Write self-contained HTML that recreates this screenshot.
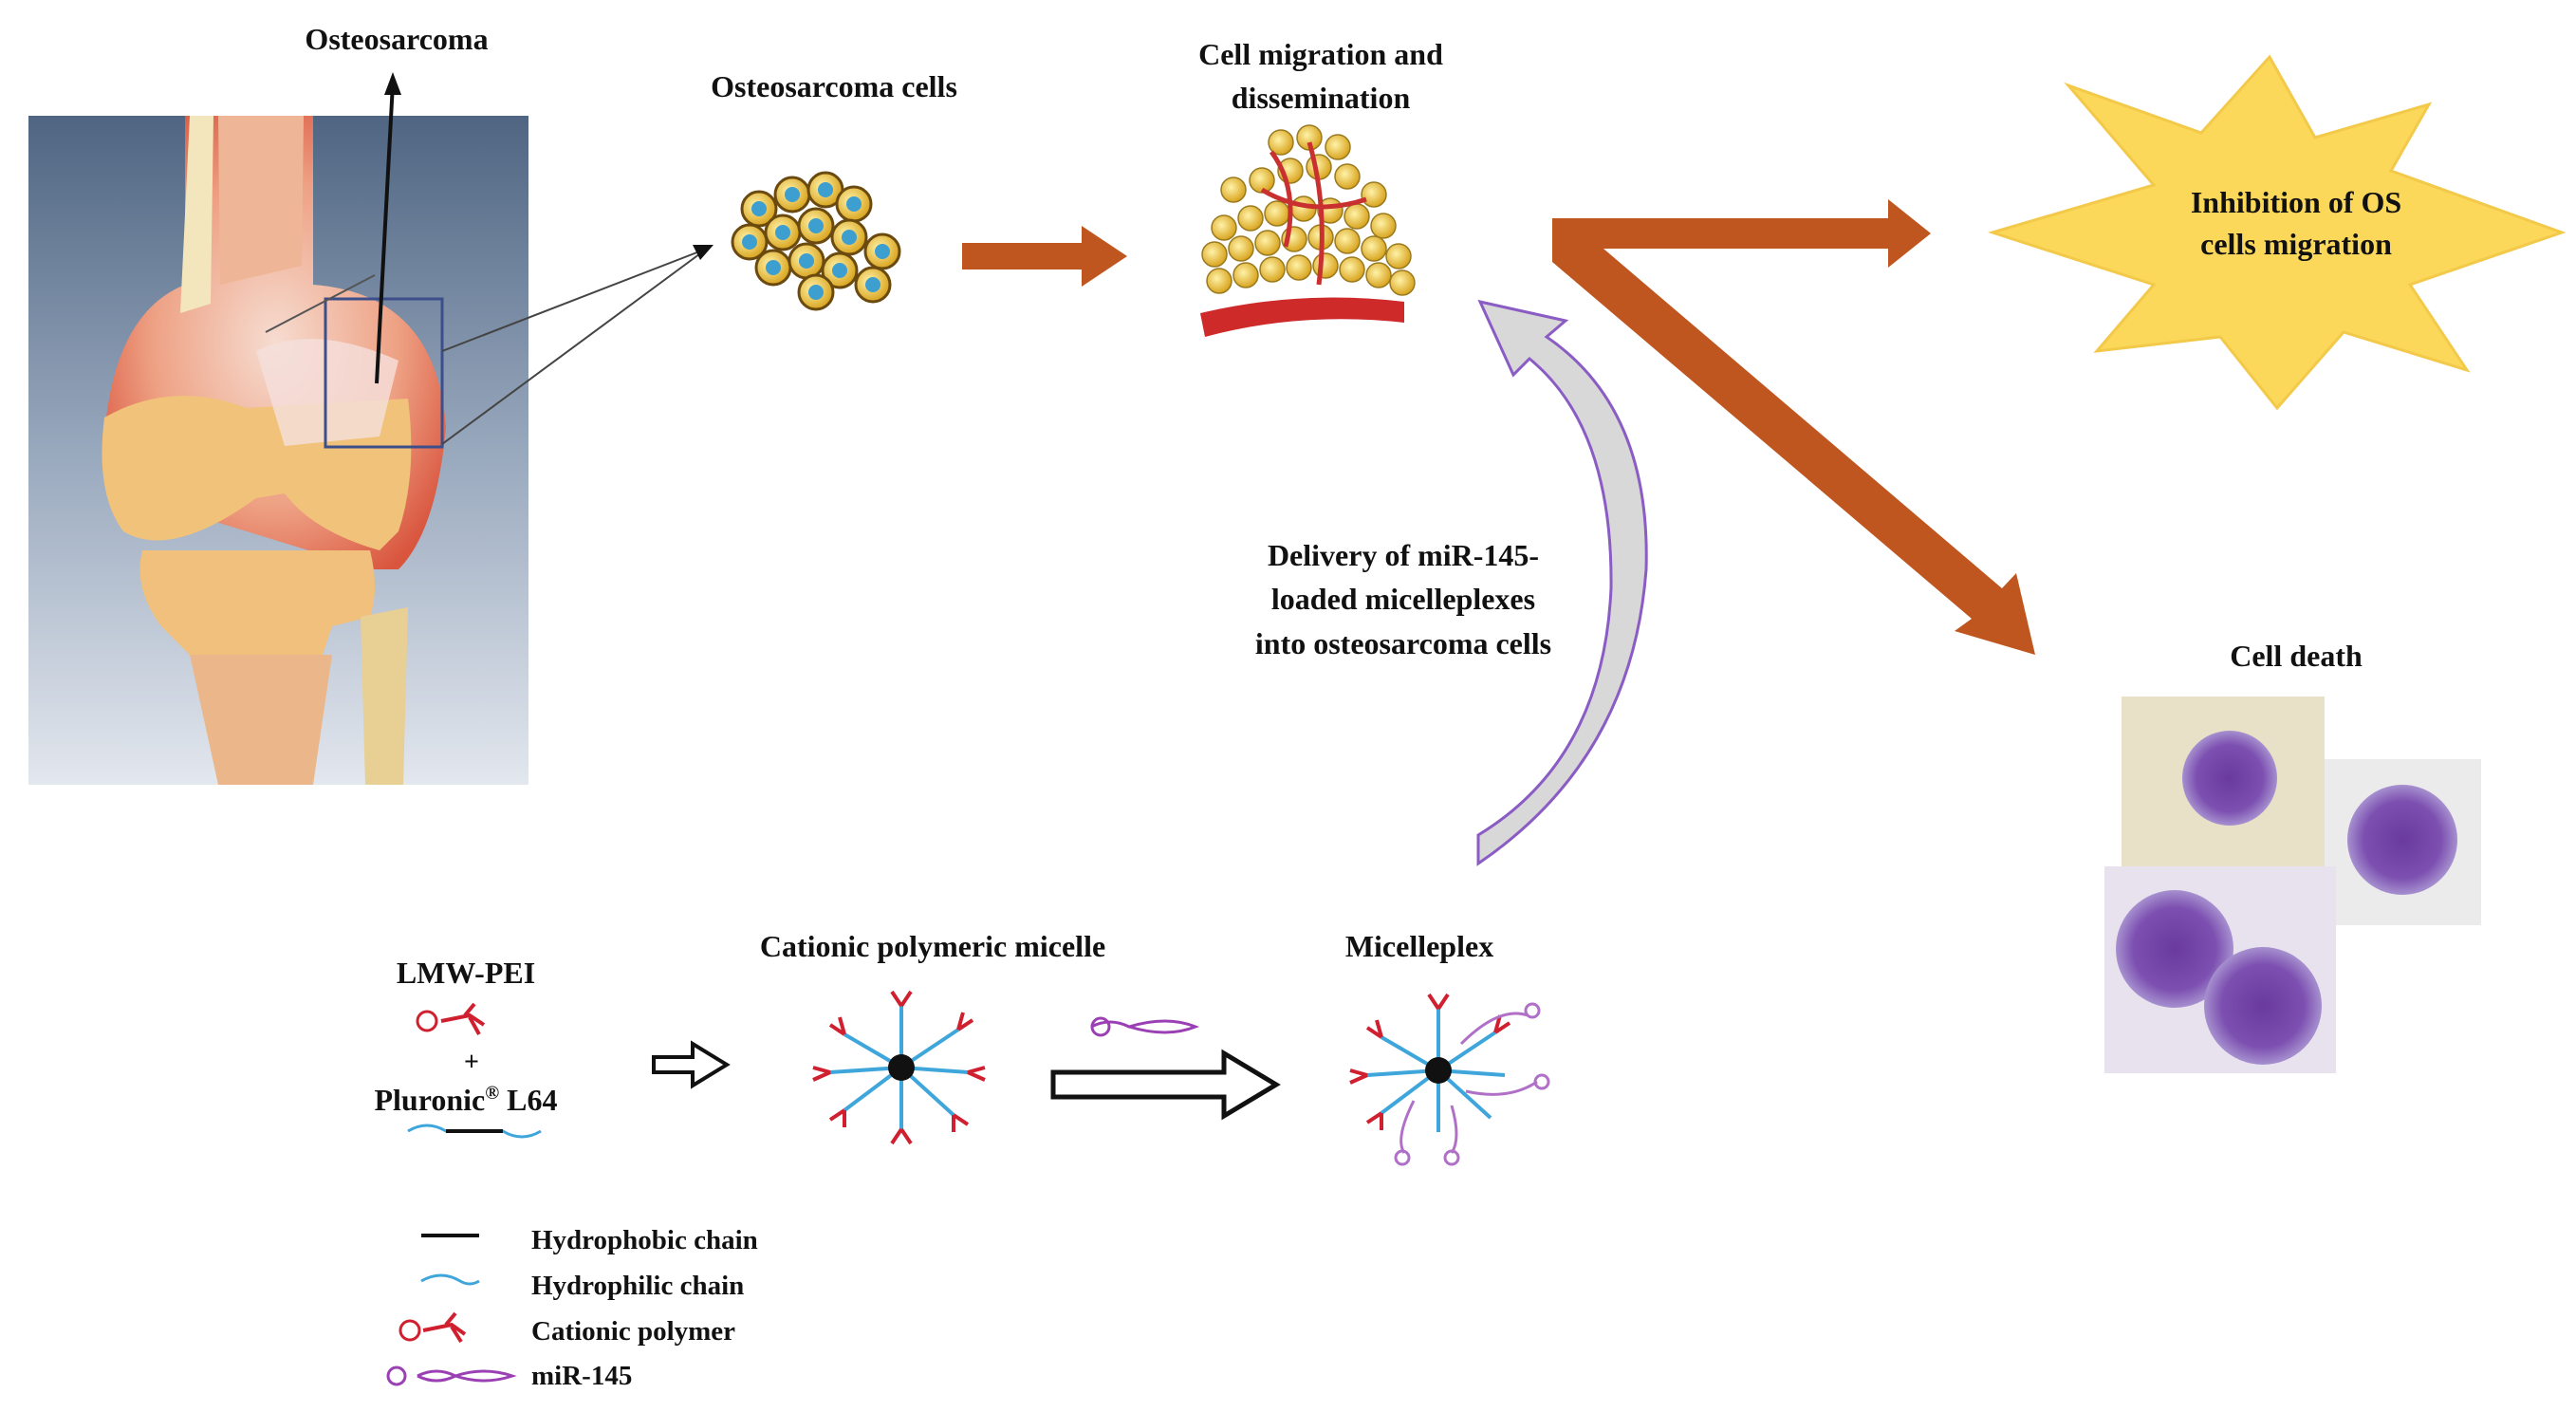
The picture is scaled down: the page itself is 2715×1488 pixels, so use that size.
<!DOCTYPE html>
<html><head><meta charset="utf-8"><style>
html,body{margin:0;padding:0;background:#fff;}
svg{display:block;}
text{font-family:"Liberation Serif",serif;font-weight:bold;fill:#111;}
</style></head><body>
<svg width="2715" height="1488" viewBox="0 0 2715 1488" xmlns="http://www.w3.org/2000/svg">
<defs>
<linearGradient id="bg" x1="0" y1="0" x2="0" y2="1"><stop offset="0" stop-color="#4f6582"/><stop offset="0.5" stop-color="#98a8bd"/><stop offset="1" stop-color="#e3e7ee"/></linearGradient>
<radialGradient id="tum" cx="0.5" cy="0.5" r="0.6"><stop offset="0" stop-color="#f6dcd0"/><stop offset="0.6" stop-color="#eea184"/><stop offset="1" stop-color="#d9553e"/></radialGradient>
<radialGradient id="cell" cx="0.4" cy="0.4" r="0.6"><stop offset="0" stop-color="#fff2a8"/><stop offset="1" stop-color="#d9a520"/></radialGradient>
<radialGradient id="pc" cx="0.5" cy="0.5" r="0.5"><stop offset="0" stop-color="#6a3a9e"/><stop offset="0.7" stop-color="#7c4fb0"/><stop offset="1" stop-color="#a690cf"/></radialGradient>
</defs>

<!-- knee -->
<rect x="30" y="122" width="527" height="705" fill="url(#bg)"/>
<path d="M195 122 L330 122 L330 300 Q460 310 470 450 Q460 560 420 600 L390 600 L130 520 L110 460 Q120 330 195 300 Z" fill="url(#tum)"/>
<path d="M200 122 L225 122 L222 320 L190 330 Z" fill="#f3e6bc"/>
<path d="M230 122 L320 122 L318 280 L232 300 Z" fill="#eeb697"/>
<path d="M110 440 Q180 400 260 430 L430 420 Q440 500 420 560 L400 580 Q330 560 300 520 L270 525 Q180 590 130 560 Q100 520 110 440 Z" fill="#f1c27a"/>
<path d="M150 580 L390 580 Q400 620 390 650 L350 660 L330 720 L330 827 L230 827 L230 720 L170 660 Q140 620 150 580 Z" fill="#f0c07c"/>
<path d="M200 690 L350 690 L330 827 L230 827 Z" fill="#ebb68a"/>
<path d="M380 650 L430 640 L425 827 L385 827 Z" fill="#e8cf93"/>
<path d="M270 370 Q330 340 420 380 L400 460 L300 470 Z" fill="#f5e0dc" opacity="0.8"/>
<rect x="343" y="315" width="123" height="156" fill="none" stroke="#3c4f8a" stroke-width="3"/>
<line x1="397" y1="404" x2="414" y2="88" stroke="#111" stroke-width="4"/>
<polygon points="414,76 405,100 423,100" fill="#111"/>
<line x1="280" y1="350" x2="395" y2="290" stroke="#555" stroke-width="2"/>
<line x1="466" y1="370" x2="745" y2="262" stroke="#444" stroke-width="2"/>
<line x1="466" y1="468" x2="745" y2="262" stroke="#444" stroke-width="2"/>
<polygon points="752,258 730,258 738,274" fill="#111"/>
<text x="418" y="52" font-size="32" text-anchor="middle">Osteosarcoma</text>

<!-- osteosarcoma cells -->
<text x="879" y="102" font-size="32" text-anchor="middle">Osteosarcoma cells</text>
<g stroke="#6b4a10" stroke-width="3" fill="url(#cell)">
<circle cx="800" cy="220" r="18"/><circle cx="835" cy="205" r="18"/><circle cx="870" cy="200" r="18"/><circle cx="900" cy="215" r="18"/>
<circle cx="790" cy="255" r="18"/><circle cx="825" cy="245" r="18"/><circle cx="860" cy="238" r="18"/><circle cx="895" cy="250" r="18"/><circle cx="930" cy="265" r="18"/>
<circle cx="815" cy="282" r="18"/><circle cx="850" cy="275" r="18"/><circle cx="885" cy="285" r="18"/><circle cx="920" cy="300" r="18"/><circle cx="860" cy="308" r="18"/>
</g>
<g fill="#3d9fd0">
<circle cx="800" cy="220" r="8"/><circle cx="835" cy="205" r="8"/><circle cx="870" cy="200" r="8"/><circle cx="900" cy="215" r="8"/>
<circle cx="790" cy="255" r="8"/><circle cx="825" cy="245" r="8"/><circle cx="860" cy="238" r="8"/><circle cx="895" cy="250" r="8"/><circle cx="930" cy="265" r="8"/>
<circle cx="815" cy="282" r="8"/><circle cx="850" cy="275" r="8"/><circle cx="885" cy="285" r="8"/><circle cx="920" cy="300" r="8"/><circle cx="860" cy="308" r="8"/>
</g>

<!-- orange arrow -->
<polygon points="1014,256 1140,256 1140,238 1188,270 1140,302 1140,284 1014,284" fill="#c0561f"/>

<!-- migration cluster -->
<text x="1392" y="68" font-size="32" text-anchor="middle">Cell migration and</text>
<text x="1392" y="114" font-size="32" text-anchor="middle">dissemination</text>
<g>
<path d="M1265 330 Q1370 305 1480 318 L1480 340 Q1370 328 1270 355 Z" fill="#cf2a2a"/>
<g fill="url(#cell)" stroke="#9a7a20" stroke-width="1.5">
<circle cx="1290" cy="240" r="13"/><circle cx="1318" cy="230" r="13"/><circle cx="1346" cy="225" r="13"/><circle cx="1374" cy="220" r="13"/><circle cx="1402" cy="222" r="13"/><circle cx="1430" cy="228" r="13"/><circle cx="1458" cy="238" r="13"/>
<circle cx="1280" cy="268" r="13"/><circle cx="1308" cy="262" r="13"/><circle cx="1336" cy="256" r="13"/><circle cx="1364" cy="252" r="13"/><circle cx="1392" cy="250" r="13"/><circle cx="1420" cy="254" r="13"/><circle cx="1448" cy="262" r="13"/><circle cx="1474" cy="270" r="13"/>
<circle cx="1285" cy="296" r="13"/><circle cx="1313" cy="290" r="13"/><circle cx="1341" cy="284" r="13"/><circle cx="1369" cy="282" r="13"/><circle cx="1397" cy="280" r="13"/><circle cx="1425" cy="284" r="13"/><circle cx="1453" cy="290" r="13"/><circle cx="1478" cy="298" r="13"/>
<circle cx="1300" cy="200" r="13"/><circle cx="1330" cy="190" r="13"/><circle cx="1360" cy="180" r="13"/><circle cx="1390" cy="176" r="13"/><circle cx="1420" cy="186" r="13"/><circle cx="1448" cy="205" r="13"/>
<circle cx="1350" cy="150" r="13"/><circle cx="1380" cy="145" r="13"/><circle cx="1410" cy="155" r="13"/>
</g>
<path d="M1340 160 Q1370 200 1355 260 M1380 150 Q1400 220 1390 300 M1330 200 Q1380 230 1440 210" stroke="#c93030" stroke-width="5" fill="none"/>
</g>

<!-- big V arrow -->
<polygon points="1636,230 1990,230 1990,210 2035,246 1990,282 1990,262 1690,262 2110,620 2125,604 2145,690 2060,665 2078,652 1636,276" fill="#c0561f"/>

<!-- star -->
<polygon points="2392,60 2440,145 2560,110 2520,180 2700,245 2540,300 2600,390 2470,350 2400,430 2340,355 2210,370 2270,300 2100,245 2270,195 2180,90 2320,140" fill="#fbd85a" stroke="#f3c94a" stroke-width="3"/>
<text x="2420" y="224" font-size="32" text-anchor="middle">Inhibition of OS</text>
<text x="2420" y="268" font-size="32" text-anchor="middle">cells migration</text>

<!-- curved purple arrow -->
<path d="M1558 910 Q1720 800 1735 600 Q1740 430 1630 355 L1650 338 L1560 318 L1595 395 L1612 378 Q1700 450 1698 620 Q1690 800 1558 880 Z" fill="#d8d8d8" stroke="#8a5cc4" stroke-width="3"/>
<text x="1479" y="596" font-size="32" text-anchor="middle">Delivery of miR-145-</text>
<text x="1479" y="642" font-size="32" text-anchor="middle">loaded micelleplexes</text>
<text x="1479" y="689" font-size="32" text-anchor="middle">into osteosarcoma cells</text>

<!-- cell death -->
<text x="2420" y="702" font-size="32" text-anchor="middle">Cell death</text>
<rect x="2236" y="734" width="214" height="180" fill="#e8e1c8"/>
<circle cx="2350" cy="820" r="50" fill="url(#pc)"/>
<rect x="2450" y="800" width="165" height="175" fill="#ecebeb"/>
<circle cx="2532" cy="885" r="58" fill="url(#pc)"/>
<rect x="2218" y="913" width="244" height="218" fill="#e8e2ee"/>
<circle cx="2292" cy="1000" r="62" fill="url(#pc)"/>
<circle cx="2385" cy="1060" r="62" fill="url(#pc)"/>

<!-- bottom scheme -->
<text x="491" y="1036" font-size="32" text-anchor="middle">LMW-PEI</text>
<circle cx="450" cy="1076" r="10" fill="none" stroke="#d02030" stroke-width="3"/>
<path d="M465 1076 L495 1070 L510 1080 M490 1070 L500 1058 M495 1072 L505 1090" stroke="#d02030" stroke-width="4" fill="none"/>
<text x="497" y="1128" font-size="28" text-anchor="middle">+</text>
<text x="491" y="1170" font-size="32" text-anchor="middle">Pluronic<tspan font-size="20" dy="-12">®</tspan><tspan dy="12"> L64</tspan></text>
<path d="M430 1192 Q450 1180 470 1192 L530 1192 Q550 1204 570 1192" stroke="#3fa6dc" stroke-width="3" fill="none"/>
<line x1="470" y1="1192" x2="530" y2="1192" stroke="#111" stroke-width="4"/>

<polygon points="689,1114 730,1114 730,1100 766,1122 730,1144 730,1130 689,1130" fill="#fff" stroke="#111" stroke-width="4"/>

<text x="983" y="1008" font-size="32" text-anchor="middle">Cationic polymeric micelle</text>
<g stroke="#3fa6dc" stroke-width="4" fill="none">
<path d="M950 1125 L890 1090 M950 1125 L950 1060 M950 1125 L1010 1085 M950 1125 L1020 1130 M950 1125 L1005 1175 M950 1125 L950 1190 M950 1125 L890 1170 M950 1125 L875 1130"/>
</g>
<g stroke="#d02030" stroke-width="4" fill="none">
<path d="M890 1090 l-15 -10 m15 10 l-5 -18 M950 1060 l-10 -15 m10 15 l10 -15 M1010 1085 l15 -10 m-15 10 l5 -18 M1020 1130 l18 -5 m-18 5 l18 8 M1005 1175 l15 10 m-15 -10 l0 18 M950 1190 l-10 15 m10 -15 l10 15 M890 1170 l-15 10 m15 -10 l0 18 M875 1130 l-18 -5 m18 5 l-18 8"/>
</g>
<circle cx="950" cy="1125" r="14" fill="#111"/>

<path d="M1150 1082 Q1170 1072 1190 1082 Q1230 1070 1260 1082 Q1230 1094 1190 1082" stroke="#9b3fb5" stroke-width="3" fill="none"/>
<circle cx="1160" cy="1082" r="9" fill="none" stroke="#9b3fb5" stroke-width="3"/>
<polygon points="1110,1130 1290,1130 1290,1110 1345,1143 1290,1176 1290,1156 1110,1156" fill="#fff" stroke="#111" stroke-width="5"/>

<text x="1496" y="1008" font-size="32" text-anchor="middle">Micelleplex</text>
<g stroke="#3fa6dc" stroke-width="4" fill="none">
<path d="M1516 1128 L1456 1093 M1516 1128 L1516 1063 M1516 1128 L1576 1088 M1516 1128 L1586 1133 M1516 1128 L1571 1178 M1516 1128 L1516 1193 M1516 1128 L1456 1173 M1516 1128 L1441 1133"/>
</g>
<g stroke="#d02030" stroke-width="4" fill="none">
<path d="M1456 1093 l-15 -10 m15 10 l-5 -18 M1516 1063 l-10 -15 m10 15 l10 -15 M1576 1088 l15 -10 m-15 10 l5 -18 M1456 1173 l-15 10 m15 -10 l0 18 M1441 1133 l-18 -5 m18 5 l-18 8"/>
</g>
<g stroke="#b070c8" stroke-width="3" fill="none">
<path d="M1540 1100 Q1580 1060 1610 1070 M1545 1150 Q1590 1160 1620 1140 M1530 1165 Q1540 1200 1530 1215 M1490 1160 Q1470 1200 1480 1215"/>
<circle cx="1615" cy="1065" r="7"/><circle cx="1625" cy="1140" r="7"/><circle cx="1530" cy="1220" r="7"/><circle cx="1478" cy="1220" r="7"/>
</g>
<circle cx="1516" cy="1128" r="14" fill="#111"/>

<!-- legend -->
<line x1="444" y1="1302" x2="505" y2="1302" stroke="#111" stroke-width="4"/>
<text x="560" y="1316" font-size="29">Hydrophobic chain</text>
<path d="M444 1350 Q465 1338 485 1350 Q495 1356 505 1350" stroke="#3fa6dc" stroke-width="3" fill="none"/>
<text x="560" y="1364" font-size="29">Hydrophilic chain</text>
<circle cx="432" cy="1402" r="10" fill="none" stroke="#d02030" stroke-width="3"/>
<path d="M446 1402 L476 1396 L490 1406 M470 1396 L480 1384 M476 1398 L486 1414" stroke="#d02030" stroke-width="4" fill="none"/>
<text x="560" y="1412" font-size="29">Cationic polymer</text>
<circle cx="418" cy="1450" r="9" fill="none" stroke="#9b3fb5" stroke-width="3"/>
<path d="M440 1450 Q460 1440 480 1450 Q510 1440 540 1450 Q510 1460 480 1450 Q460 1460 440 1450" stroke="#9b3fb5" stroke-width="3" fill="none"/>
<text x="560" y="1459" font-size="29">miR-145</text>
</svg>
</body></html>
